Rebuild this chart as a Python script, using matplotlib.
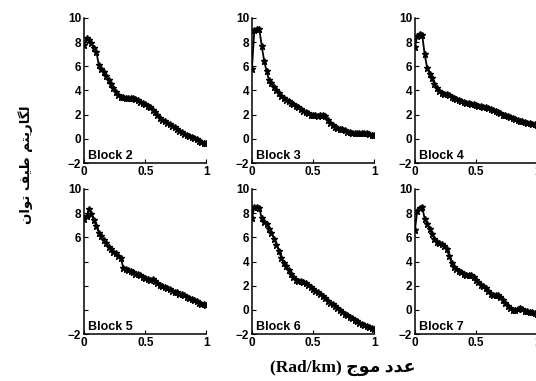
import numpy as np
import matplotlib.pyplot as plt

# wavenumber grid (Rad/km)
k = np.linspace(0, 1, 51)

block2 = [7.8, 8.3, 8.2, 7.9, 7.5, 7.2, 6.1, 5.8, 5.5, 5.2, 4.9, 4.5, 4.2, 3.9, 3.6, 3.5,
          3.45, 3.4, 3.35, 3.4, 3.35, 3.3, 3.2, 3.05, 2.95, 2.85, 2.7, 2.6, 2.4, 2.2, 1.95,
          1.75, 1.55, 1.45, 1.35, 1.2, 1.05, 0.95, 0.8, 0.65, 0.55, 0.4, 0.3, 0.2, 0.15,
          0.05, -0.05, -0.15, -0.25, -0.3, -0.35]
block3 = [5.8, 9.0, 9.1, 9.1, 7.7, 6.45, 5.6, 4.85, 4.6, 4.3, 4.0, 3.8, 3.55, 3.35, 3.2,
          3.1, 3.0, 2.9, 2.75, 2.6, 2.45, 2.3, 2.2, 2.1, 2.0, 1.95, 1.95, 1.9, 1.95, 1.95,
          1.85, 1.6, 1.35, 1.15, 1.0, 0.9, 0.85, 0.8, 0.7, 0.6, 0.55, 0.5, 0.45, 0.45,
          0.45, 0.5, 0.45, 0.45, 0.4, 0.35, 0.3]
block4 = [7.6, 8.5, 8.7, 8.6, 7.0, 5.9, 5.4, 5.0, 4.5, 4.2, 3.95, 3.8, 3.75, 3.7, 3.6,
          3.5, 3.4, 3.3, 3.2, 3.15, 3.05, 3.0, 2.95, 2.9, 2.85, 2.8, 2.75, 2.7, 2.65, 2.6,
          2.55, 2.5, 2.4, 2.3, 2.2, 2.1, 2.0, 1.95, 1.85, 1.8, 1.7, 1.65, 1.6, 1.5, 1.45,
          1.4, 1.35, 1.3, 1.25, 1.2, 1.15]
block5 = [7.5, 7.8, 8.35, 7.9, 7.4, 6.9, 6.4, 6.1, 5.8, 5.5, 5.2, 5.0, 4.8, 4.7, 4.5,
          4.3, 3.5, 3.4, 3.3, 3.2, 3.1, 3.0, 2.95, 2.85, 2.75, 2.65, 2.55, 2.5, 2.55, 2.4,
          2.2, 2.1, 2.0, 1.9, 1.8, 1.7, 1.6, 1.5, 1.45, 1.35, 1.3, 1.2, 1.1, 1.0, 0.9,
          0.8, 0.7, 0.6, 0.5, 0.45, 0.4]
block6 = [7.6, 8.5, 8.5, 8.4, 7.6, 7.3, 7.1, 6.7, 6.4, 5.9, 5.4, 4.9, 4.3, 3.9, 3.6,
          3.3, 3.0, 2.75, 2.5, 2.4, 2.4, 2.35, 2.25, 2.1, 1.9, 1.7, 1.6, 1.45, 1.3, 1.15,
          0.95, 0.75, 0.6, 0.45, 0.3, 0.15, 0.0, -0.15, -0.3, -0.45, -0.55, -0.7, -0.85,
          -0.95, -1.05, -1.15, -1.25, -1.35, -1.4, -1.5, -1.55]
block7 = [6.6, 8.2, 8.4, 8.5, 7.55, 7.1, 6.7, 6.3, 5.9, 5.6, 5.5, 5.45, 5.3, 5.0, 4.5,
          3.9, 3.55, 3.35, 3.2, 3.1, 3.0, 2.9, 2.9, 2.85, 2.7, 2.5, 2.3, 2.1, 1.95, 1.8,
          1.6, 1.35, 1.2, 1.2, 1.2, 1.05, 0.8, 0.55, 0.35, 0.15, 0.0, 0.0, 0.05, 0.15,
          0.1, -0.05, -0.1, -0.15, -0.2, -0.25, -0.3]

blocks = [block2, block3, block4, block5, block6, block7]
names = ['Block 2', 'Block 3', 'Block 4', 'Block 5', 'Block 6', 'Block 7']

yticks = [-2, 0, 2, 4, 6, 8, 10]
xticks = [0, 0.5, 1]

# axes positions in figure fractions
lefts = [0.157, 0.470, 0.774]
bottoms = [0.572, 0.123]
w, h = 0.228, 0.381

fig = plt.figure(figsize=(5.36, 3.81), dpi=100)

for i, (vals, name) in enumerate(zip(blocks, names)):
    row, col = divmod(i, 3)
    ax = fig.add_axes([lefts[col], bottoms[row], w, h])
    ax.plot(k, vals, color='black', lw=1.3, marker='*', ms=5, mew=1.0)
    ax.set_xlim(0, 1)
    ax.set_ylim(-2, 10)
    ax.set_xticks(xticks)
    ax.set_xticklabels(['0', '0.5', '1'])
    ax.set_yticks(yticks)
    if name == 'Block 5':
        ax.set_yticklabels(['\u22122', '', '', '', '6', '8', '10'])
    else:
        ax.set_yticklabels(['\u22122', '0', '2', '4', '6', '8', '10'])
    for s in ['top', 'right']:
        ax.spines[s].set_visible(False)
    for s in ['left', 'bottom']:
        ax.spines[s].set_linewidth(1.1)
    ax.tick_params(direction='in', length=3, width=0.8, labelsize=8.5, pad=2)
    for lab in ax.get_xticklabels() + ax.get_yticklabels():
        lab.set_fontweight('bold')
        lab.set_family('Liberation Sans')
    ax.text(0.03, -1.9, name, fontsize=9, fontweight='bold', family='Liberation Sans',
            va='bottom', ha='left')

# Persian labels, glyphs given in visual order (presentation forms)
ylab = ('\uFEE5\uFE8D\uFEEE\uFE97 \uFED2\uFBFF\uFEC3 '
        '\uFEE2\uFE98\uFBFE\uFEAD\uFE8E\uFB95\uFEDF')
xlab = '(Rad/km) \uFE9D\uFEEE\uFEE3 \uFEA9\uFEAA\uFECB'

fig.text(0.047, 0.567, ylab, rotation=90, ha='center', va='center',
         fontsize=9.5, fontweight='bold', family=['DejaVu Sans'])
fig.text(0.640, 0.033, xlab, ha='center', va='center',
         fontsize=12.5, fontweight='bold', family=['Liberation Serif', 'DejaVu Sans'])

fig.savefig('out.png', dpi=100)
